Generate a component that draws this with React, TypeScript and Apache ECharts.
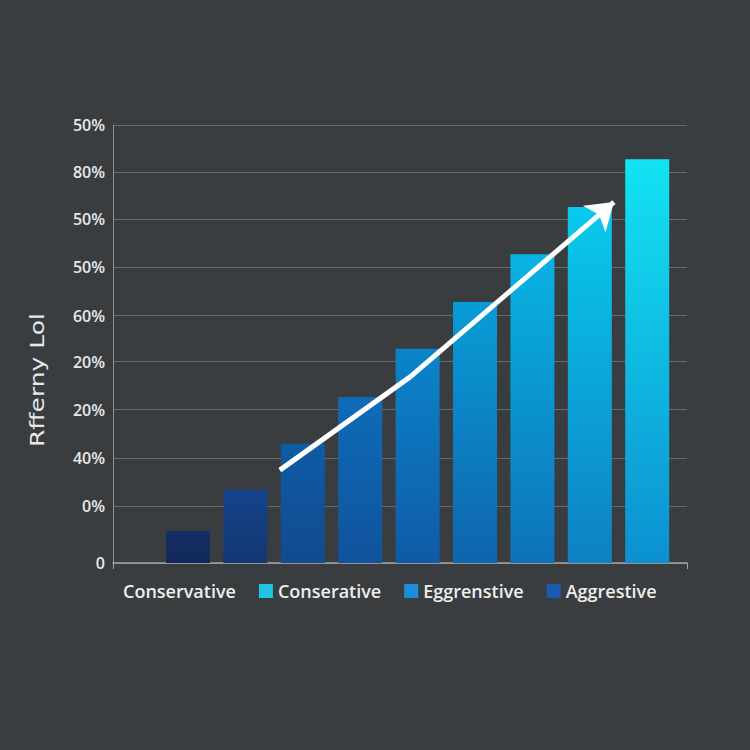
import React, { useEffect, useRef } from "react";
import * as echarts from "echarts";

// bar heights (percent of plot height), left to right
const barValues = [7.3, 16.7, 27.2, 37.9, 48.9, 59.6, 70.5, 81.3, 92.2];
const barPositions = [1, 2, 3, 4, 5, 6, 7, 8, 9];

// y tick positions and the labels printed at them (bottom to top)
const yTicks = [0, 13, 24, 35, 46, 56.5, 67.5, 78.5, 89.2, 100];
const yLabels = ["0", "0%", "40%", "20%", "20%", "60%", "50%", "50%", "80%", "50%"];

// trend arrow in data coordinates: start, bend, end
const arrowStart = [2.6, 21.2];
const arrowBend = [4.87, 42.5];
const arrowEnd = [8.42, 82.4];

const legendNames = ["Conservative", "Conserative", "Eggrenstive", "Aggrestive"];
const legendColors = ["#1ec6e4", "#1a8edb", "#1a5bb0"];

const yAxisTitle = "Rfferny Lol";

const barTop = ["#152e64", "#15448c", "#0e5ba6", "#0d6cb8", "#0a84ca", "#099cd6", "#08b3e2", "#09caec", "#12e3f3"];
const barBottom = ["#122858", "#133772", "#124a8e", "#11529c", "#105aa6", "#0f64ae", "#0e72b9", "#0d80c4", "#0c90d0"];

const App: React.FC = () => {
  const chartRef = useRef<HTMLDivElement>(null);

  useEffect(() => {
    if (!chartRef.current) return;
    const chart = echarts.init(chartRef.current, undefined, { renderer: "svg" });

    const labelFor = (v: number) => {
      let best = 0;
      yTicks.forEach((t, i) => {
        if (Math.abs(t - v) < Math.abs(yTicks[best] - v)) best = i;
      });
      return yLabels[best];
    };

    const arrowStyle = { color: "#ffffff", width: 5, opacity: 1, curveness: 0 };

    chart.setOption({
      animation: false,
      backgroundColor: "#3a3d3f",
      textStyle: { fontFamily: "Open Sans" },
      grid: { left: 113, right: 63, top: 125, bottom: 187 },
      xAxis: {
        type: "value",
        min: -0.307,
        max: 9.693,
        axisLine: { show: true, onZero: false, lineStyle: { color: "#a3a5a6", width: 1.5 } },
        axisTick: {
          show: true,
          customValues: [-0.307, 9.693],
          length: 6,
          lineStyle: { color: "#a3a5a6" },
        },
        axisLabel: { show: false },
        splitLine: { show: false },
      },
      yAxis: {
        type: "value",
        min: 0,
        max: 100,
        axisLine: { show: true, onZero: false, lineStyle: { color: "#8e9193", width: 1 } },
        axisTick: { show: false, customValues: yTicks },
        axisLabel: {
          customValues: yTicks,
          formatter: (v: number) => labelFor(v),
          color: "#e8e8e8",
          fontSize: 16,
          fontWeight: 600,
          margin: 8,
        },
        splitLine: { show: true, lineStyle: { color: "#666a6c", width: 1 } },
      },
      legend: {
        left: 99,
        top: 577,
        itemWidth: 14,
        itemHeight: 14,
        itemGap: 23,
        textStyle: { color: "#eeeeee", fontSize: 18, fontWeight: 600, fontFamily: "Open Sans" },
        data: [
          { name: legendNames[0], icon: "none" },
          { name: legendNames[1], icon: "rect" },
          { name: legendNames[2], icon: "rect" },
          { name: legendNames[3], icon: "rect" },
        ],
      },
      graphic: [
        {
          type: "text",
          x: 37,
          y: 380,
          rotation: Math.PI / 2,
          scaleX: 1.25,
          style: {
            text: yAxisTitle,
            fill: "#e8e8e8",
            fontSize: 20,
            fontFamily: "DejaVu Sans",
            textAlign: "center",
            textVerticalAlign: "middle",
          },
        },
      ],
      series: [
        {
          name: legendNames[0],
          type: "bar",
          barWidth: 44,
          itemStyle: { color: "#1a5bb0" },
          data: barValues.map((v, i) => ({
            value: [barPositions[i], v],
            itemStyle: {
              color: new echarts.graphic.LinearGradient(0, 0, 0, 1, [
                { offset: 0, color: barTop[i] },
                { offset: 1, color: barBottom[i] },
              ]),
            },
          })),
        },
        ...legendNames.slice(1).map((name, i) => ({
          name,
          type: "line",
          data: [],
          itemStyle: { color: legendColors[i] },
          lineStyle: { color: legendColors[i] },
        })),
        {
          type: "lines",
          coordinateSystem: "cartesian2d",
          z: 5,
          symbol: ["none", "none"],
          lineStyle: arrowStyle,
          data: [{ coords: [arrowStart, arrowBend] }],
        },
        {
          type: "lines",
          coordinateSystem: "cartesian2d",
          z: 5,
          symbol: ["none", "arrow"],
          symbolSize: 26,
          lineStyle: arrowStyle,
          data: [{ coords: [arrowBend, arrowEnd] }],
        },
      ],
    });

    return () => {
      chart.dispose();
    };
  }, []);

  return (
    <div
      ref={chartRef}
      style={{ position: "fixed", left: 0, top: 0, width: 750, height: 750 }}
    />
  );
};

export default App;
